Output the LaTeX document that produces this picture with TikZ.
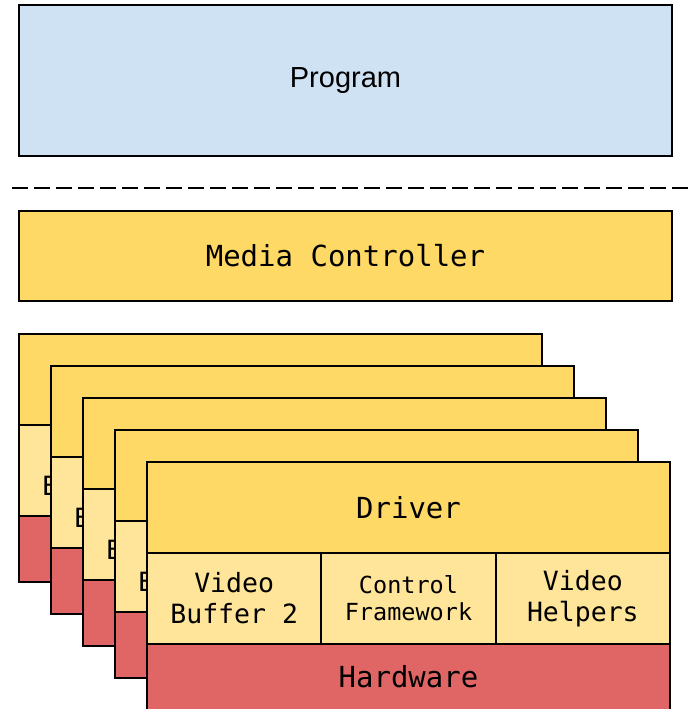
\documentclass[tikz,border=0pt]{standalone}
\usepackage{fontspec}
\setmainfont{Liberation Sans}
\setmonofont{DejaVu Sans Mono}
\definecolor{progblue}{HTML}{CFE2F3}
\definecolor{drvyellow}{HTML}{FFD966}
\definecolor{midyellow}{HTML}{FFE599}
\definecolor{hwred}{HTML}{E06666}
\tikzset{
  box/.style={draw=black, line width=2pt, rectangle, inner sep=0pt, outer sep=0pt,
    anchor=north west, align=center},
  bigmono/.style={font=\ttfamily\fontsize{29}{34}\selectfont},
  midmono/.style={font=\ttfamily\fontsize{26.5}{31}\selectfont},
  smallmono/.style={font=\ttfamily\fontsize{23.5}{27}\selectfont},
  layerdrv/.style={box, fill=drvyellow, minimum width=523pt, minimum height=91pt, bigmono},
  layermid/.style={box, fill=midyellow, minimum width=174.33pt, minimum height=91pt},
  layerhw/.style={box, fill=hwred, minimum width=523pt, minimum height=66pt, bigmono},
}
\begin{document}
\begin{tikzpicture}[x=1pt,y=-1pt]
\useasboundingbox (0,0) rectangle (693,709);

% user space
\node[box, fill=progblue, minimum width=653pt, minimum height=151pt,
      font=\fontsize{29}{34}\selectfont] (program) at (19,5) {Program};

% user / kernel boundary
\coordinate (sepL) at (12,188);
\coordinate (sepR) at (693,188);
\draw[line width=2pt, dash pattern=on 16pt off 6pt] (sepL) -- (sepR);

% media controller
\node[box, fill=drvyellow, minimum width=653pt, minimum height=90pt, bigmono]
      (mc) at (19,211) {Media Controller};

% stacked driver cards behind the front one: only the first letter of
% "Buffer 2" peeks out from under the next card
\foreach \i in {0,...,3}{
  \pgfmathsetmacro{\ox}{19+32*\i}
  \pgfmathsetmacro{\oy}{334+32*\i}
  \node[layerdrv] (drv\i) at (\ox,\oy) {};
  \node[layermid, midmono] (vb\i) at (\ox,\oy+91)
       {\phantom{Video}\\B\phantom{uffer 2}};
  \node[layermid] (cf\i) at (\ox+174.33,\oy+91) {};
  \node[layermid] (vh\i) at (\ox+348.67,\oy+91) {};
  \node[layerhw] (hw\i) at (\ox,\oy+182) {};
}

% front driver card
\node[layerdrv] (drv4) at (147,462) {Driver};
\node[layermid, midmono] (vb4) at (147,553) {Video\\Buffer 2};
\node[layermid, smallmono] (cf4) at (321.33,553) {Control\\Framework};
\node[layermid, midmono] (vh4) at (495.67,553) {Video\\Helpers};
\node[layerhw] (hw4) at (147,644) {Hardware};
\end{tikzpicture}
\end{document}
